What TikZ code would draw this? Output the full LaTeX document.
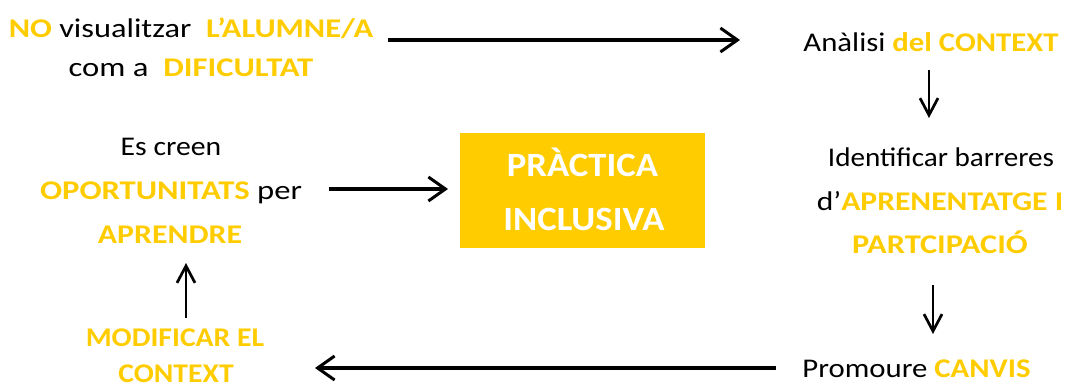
\documentclass[tikz,border=0pt]{standalone}
\usepackage{fontspec}
\setmainfont{Carlito}
\usetikzlibrary{arrows.meta}
\definecolor{gold}{HTML}{FFCC00}
\newcommand{\yb}[1]{\textbf{\textcolor{gold}{#1}}}
\newcommand{\hs}[2][1.1]{\scalebox{#1}[1]{#2}}
\newcommand{\hb}[1]{\scalebox{1.08}[1]{#1}}
\begin{document}
\begin{tikzpicture}[x=1pt,y=-1pt,
  txt/.style={inner sep=0pt,anchor=base,font=\fontsize{27}{30}\selectfont},
  boxtxt/.style={inner sep=0pt,anchor=base,text=white,font=\fontsize{34}{36}\selectfont\bfseries},
  harrow/.style={line width=3.2pt,-{Straight Barb[length=17pt,width=24pt,line width=3pt]}},
  varrow/.style={line width=2.8pt,-{Straight Barb[length=17pt,width=18pt,line width=2.7pt]}},
  boxst/.style={fill=gold,minimum width=245pt,minimum height=115pt,inner sep=0pt}]
\useasboundingbox (0,0) rectangle (1069,388);
% texts
\node[txt] (t1) at (191,37) {\hs[1.2]{\yb{NO} visualitzar\ \ \yb{L’ALUMNE/A}}};
\node[txt] (t2) at (191,76) {\hs[1.21]{com a\ \ \yb{DIFICULTAT}}};
\node[txt] (r1) at (931,51) {\hs[1.14]{Anàlisi \yb{del CONTEXT}}};
\node[txt] (r2) at (941,166) {\hs[1.08]{Identificar barreres}};
\node[txt] (r3) at (940,210) {\hs[1.17]{d’\yb{APRENENTATGE I}}};
\node[txt] (r4) at (940,253) {\hs[1.2]{\yb{PARTCIPACIÓ}}};
\node[txt] (r5) at (916.5,377) {\hs[1.14]{Promoure \yb{CANVIS}}};
\node[txt] (b1) at (175,346) {\hs{\yb{MODIFICAR EL}}};
\node[txt] (b2) at (176,382) {\hs{\yb{CONTEXT}}};
\node[txt] (l1) at (171,155) {\hs{Es creen}};
\node[txt] (l2) at (171,199) {\hs[1.21]{\yb{OPORTUNITATS} per}};
\node[txt] (l3) at (170,243) {\hs[1.18]{\yb{APRENDRE}}};
% central box
\node[boxst] (box) at (582.5,190.5) {};
\node[boxtxt] (p1) at (582.5,176) {\hb{PRÀCTICA}};
\node[boxtxt] (p2) at (584,230) {\hb{INCLUSIVA}};
% arrow endpoints
\coordinate (a1s) at (388,40);
\coordinate (a1e) at (740,40);
\coordinate (a2s) at (929,70);
\coordinate (a2e) at (929,118);
\coordinate (a3s) at (933,285);
\coordinate (a3e) at (933,334);
\coordinate (a4s) at (776,368);
\coordinate (a4e) at (315,368);
\coordinate (a5s) at (186,318);
\coordinate (a5e) at (186,263);
\coordinate (a6s) at (329,189);
\coordinate (a6e) at (448,189);
\draw[harrow] (a1s) -- (a1e);
\draw[varrow] (a2s) -- (a2e);
\draw[varrow] (a3s) -- (a3e);
\draw[harrow] (a4s) -- (a4e);
\draw[varrow] (a5s) -- (a5e);
\draw[harrow] (a6s) -- (a6e);
\end{tikzpicture}
\end{document}
